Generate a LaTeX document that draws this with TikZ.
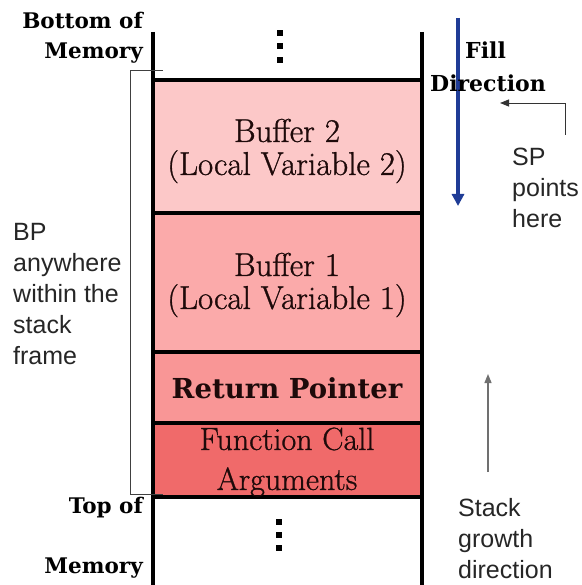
\documentclass[tikz,border=0pt]{standalone}
\usepackage{fontspec}
\newfontfamily\arialfont{Liberation Sans}
\newfontfamily\heavyfont{DejaVu Serif}
\newfontfamily\boxfont[FakeBold=0.9]{Latin Modern Roman}
\usetikzlibrary{arrows.meta}
\definecolor{cbuftwo}{HTML}{FCC8C8}
\definecolor{cbufone}{HTML}{FBAAAA}
\definecolor{cret}{HTML}{F99696}
\definecolor{cfunc}{HTML}{F06A6A}
\definecolor{cfill}{HTML}{1F3C96}
\definecolor{cgray}{HTML}{707070}
\definecolor{ctext}{HTML}{1E0A0A}
\tikzset{
  x=1pt, y=-1pt,
  stackbox/.style={draw=black, line width=3.5pt, minimum width=269pt, inner sep=0pt},
  boxtxt/.style={align=center, inner sep=0pt, text=ctext, font=\boxfont\fontsize{33}{33}\selectfont},
  sidelbl/.style={align=left, anchor=north west, inner sep=0pt,
     font=\arialfont\fontsize{25}{31}\selectfont, text=black!85},
  memlbl/.style={anchor=east, inner sep=0pt,
     font=\heavyfont\bfseries\fontsize{21.5}{32}\selectfont},
  dotnode/.style={fill=black, minimum size=5.5pt, inner sep=0pt},
}
\begin{document}
\begin{tikzpicture}
\useasboundingbox (0,0) rectangle (581,585);
% boxes
\node[stackbox, fill=cbuftwo, minimum height=133pt] (b2) at (287.5,146.5) {};
\node[stackbox, fill=cbufone, minimum height=139pt] (b1) at (287.5,282.5) {};
\node[stackbox, fill=cret, minimum height=71pt] (rp) at (287.5,387.5) {};
\node[stackbox, fill=cfunc, minimum height=74pt] (fc) at (287.5,460) {};
\node[boxtxt] (b2t) at (287,151) {Buffer 2\\(Local Variable 2)};
\node[boxtxt] (b1t) at (287,285) {Buffer 1\\(Local Variable 1)};
\node[boxtxt, font=\heavyfont\bfseries\fontsize{27.5}{33}\selectfont] (rpt) at (287,388) {Return Pointer};
\node[boxtxt, font=\boxfont\fontsize{32}{40}\selectfont] (fct) at (287,462) {Function Call\\Arguments};
% walls
\coordinate (lwt) at (153,32);
\coordinate (lwb) at (153,585);
\coordinate (rwt) at (422,32);
\coordinate (rwb) at (422,585);
\draw[line width=4pt] (lwt) -- (lwb);
\draw[line width=4pt] (rwt) -- (rwb);
% dots
\node[dotnode] (d1) at (280,33) {};
\node[dotnode] (d2) at (280,46) {};
\node[dotnode] (d3) at (280,60) {};
\node[dotnode] (d4) at (279,522) {};
\node[dotnode] (d5) at (279,535) {};
\node[dotnode] (d6) at (279,548) {};
% bracket
\coordinate (bt1) at (163,70);
\coordinate (bt2) at (130,70);
\coordinate (bb1) at (130,494);
\coordinate (bb2) at (163,494);
\draw[line width=0.9pt, black!75] (bt1) -- (bt2) -- (bb1) -- (bb2);
% memory labels
\node[memlbl] (botmem1) at (143,20) {Bottom of};
\node[memlbl] (botmem2) at (143,53) {Memory};
\node[memlbl] (topmem1) at (143,508) {Top of};
\node[memlbl] (topmem2) at (143,568) {Memory};
% fill direction
\coordinate (f1) at (458,18);
\coordinate (f2) at (458,206);
\draw[cfill, line width=3.5pt, -{Triangle[length=12pt,width=12pt]}] (f1) -- (f2);
\node[font=\heavyfont\bfseries\fontsize{22}{32}\selectfont, anchor=west, inner sep=0pt] (filltxt) at (465,50) {Fill};
\node[font=\heavyfont\bfseries\fontsize{22}{32}\selectfont, anchor=west, inner sep=0pt] (dirtxt) at (430,83) {Direction};
% SP
\coordinate (sp1) at (565,135);
\coordinate (sp2) at (565,103);
\coordinate (sp3) at (500,103);
\draw[line width=0.9pt, black!80, -{Triangle[length=9pt,width=7pt]}] (sp1) -- (sp2) -- (sp3);
\node[sidelbl] (sptxt) at (512,148) {SP\\points\\here};
% BP
\node[sidelbl] (bptxt) at (13,223) {BP\\anywhere\\within the\\stack\\frame};
% growth
\coordinate (g1) at (488,472);
\coordinate (g2) at (488,374);
\draw[line width=1.3pt, cgray, -{Triangle[length=9pt,width=7pt]}] (g1) -- (g2);
\node[sidelbl] (gtxt) at (458,498) {Stack\\growth\\direction};
\end{tikzpicture}
\end{document}
